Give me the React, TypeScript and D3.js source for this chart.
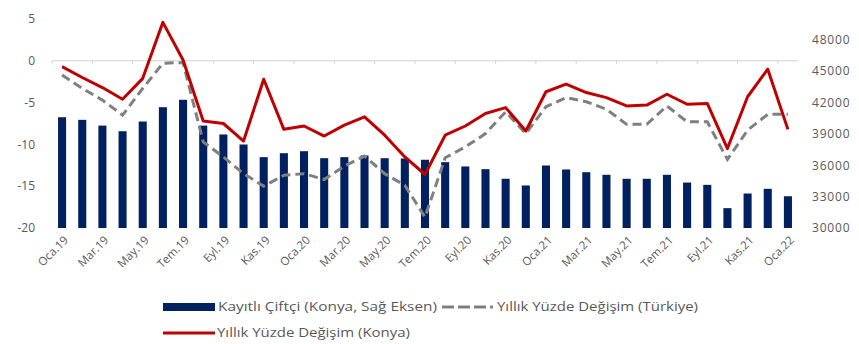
import React from "react";
import * as d3 from "d3";

const categories = ["Oca.19","Şub.19","Mar.19","Nis.19","May.19","Haz.19","Tem.19","Ağu.19","Eyl.19","Eki.19","Kas.19","Ara.19",
"Oca.20","Şub.20","Mar.20","Nis.20","May.20","Haz.20","Tem.20","Ağu.20","Eyl.20","Eki.20","Kas.20","Ara.20",
"Oca.21","Şub.21","Mar.21","Nis.21","May.21","Haz.21","Tem.21","Ağu.21","Eyl.21","Eki.21","Kas.21","Ara.21","Oca.22"];

const farmers = [40600,40350,39800,39260,40190,41560,42270,39800,38950,37990,36780,37160,
37350,36680,36780,36940,36680,36650,36530,36300,35890,35630,34710,34070,
35980,35600,35340,35090,34710,34710,35090,34350,34130,31900,33300,33750,33040];

const konya = [-0.7,-2.0,-3.2,-4.6,-2.1,4.6,0.1,-7.2,-7.5,-9.6,-2.2,-8.2,
-7.8,-9.0,-7.7,-6.7,-8.9,-11.5,-13.6,-8.9,-7.8,-6.3,-5.6,-8.4,
-3.7,-2.8,-3.8,-4.4,-5.4,-5.3,-4.0,-5.2,-5.1,-10.5,-4.3,-1.0,-8.2];

const turkiye = [-1.7,-3.3,-4.7,-6.5,-3.3,-0.3,-0.2,-9.7,-11.5,-13.5,-15.0,-13.7,
-13.5,-14.2,-12.6,-11.4,-13.5,-14.9,-18.7,-11.6,-10.3,-8.7,-6.1,-8.7,
-5.5,-4.4,-4.9,-5.8,-7.6,-7.6,-5.4,-7.3,-7.3,-11.8,-8.3,-6.4,-6.4];

const leftTicks = [5,0,-5,-10,-15,-20];
const rightTicks = [30000,33000,36000,39000,42000,45000,48000];

const legendLabels = ["Kayıtlı Çiftçi (Konya, Sağ Eksen)","Yıllık Yüzde Değişim (Türkiye)","Yıllık Yüzde Değişim (Konya)"];

export default function App() {
  const W = 859, H = 344;
  const x = d3.scaleBand<number>().domain(d3.range(categories.length)).range([52, 798]).paddingInner(0.6).paddingOuter(0.3);
  const yL = d3.scaleLinear().domain([-20, 5]).range([228, 19]);
  const yR = d3.scaleLinear().domain([30000, 50000]).range([228, 19]);
  const cx = (i: number) => (x(i) as number) + x.bandwidth() / 2;
  const line = d3.line<number>().x((_, i) => cx(i)).y(d => yL(d));
  const txt = "#595959";
  const font = "'Open Sans', sans-serif";
  const step = x.step();
  return (
    <svg width={W} height={H} style={{ position: "absolute", left: 0, top: 0, background: "#fff" }}>
      <line x1={52} x2={798} y1={yL(0)} y2={yL(0)} stroke="#d0d0d0" strokeWidth={1} />
      {d3.range(0, categories.length + 1, 2).map(i => (
        <line key={"t" + i} x1={52 + i * step} x2={52 + i * step} y1={yL(0)} y2={yL(0) + 3} stroke="#d0d0d0" />
      ))}
      {farmers.map((v, i) => (
        <rect key={"b" + i} x={x(i)} y={yR(v)} width={x.bandwidth()} height={yR(30000) - yR(v)} fill="#002060" />
      ))}
      <path d={line(turkiye) || ""} fill="none" stroke="#808080" strokeWidth={3} strokeDasharray="9,5" />
      <path d={line(konya) || ""} fill="none" stroke="#C00000" strokeWidth={3} strokeLinejoin="round" />
      {leftTicks.map(t => (
        <text key={"l" + t} x={35} y={yL(t)} dy="0.35em" textAnchor="end" fontFamily={font} fontSize={12} fill={txt}>{t}</text>
      ))}
      {rightTicks.map(t => (
        <text key={"r" + t} x={812} y={yR(t)} dy="0.35em" textAnchor="start" fontFamily={font} fontSize={12} fill={txt} letterSpacing={0.8}>{t}</text>
      ))}
      {categories.map((c, i) => i % 2 === 0 ? (
        <text key={"c" + i} transform={`translate(${cx(i) + 4},${238}) rotate(-45)`} textAnchor="end" dy="0.35em"
          fontFamily={font} fontSize={11.5} fill={txt}>{c}</text>
      ) : null)}
      {/* legend */}
      <rect x={163} y={303} width={52} height={8} fill="#002060" />
      <text x={218} y={307} dy="0.35em" fontFamily={font} fontSize={12} fill={txt} textLength={219} lengthAdjust="spacingAndGlyphs">{legendLabels[0]}</text>
      <line x1={442} x2={493} y1={307} y2={307} stroke="#808080" strokeWidth={3} strokeDasharray="12,4" />
      <text x={497} y={307} dy="0.35em" fontFamily={font} fontSize={12} fill={txt} textLength={201} lengthAdjust="spacingAndGlyphs">{legendLabels[1]}</text>
      <line x1={163} x2={215} y1={333} y2={333} stroke="#C00000" strokeWidth={3} />
      <text x={217} y={333} dy="0.35em" fontFamily={font} fontSize={12} fill={txt} textLength={193} lengthAdjust="spacingAndGlyphs">{legendLabels[2]}</text>
    </svg>
  );
}
